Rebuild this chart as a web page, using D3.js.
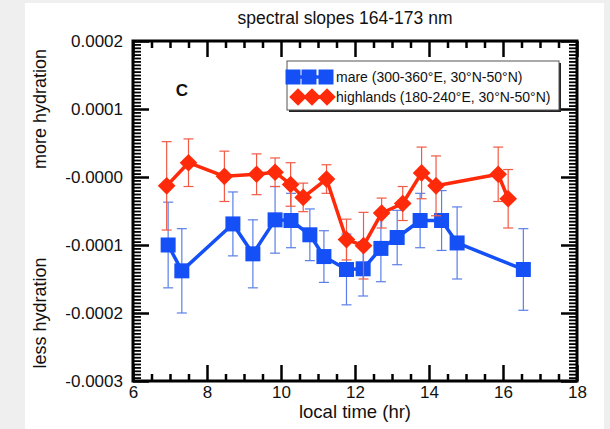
<!DOCTYPE html>
<html>
<head>
<meta charset="utf-8">
<script src="https://cdn.jsdelivr.net/npm/d3@7"></script>
<style>
  body { margin: 0; background: #efefef; }
  svg { display: block; }
  text { font-family: "Liberation Sans", Arial, Helvetica, sans-serif; }
</style>
</head>
<body>
<div id="chart"></div>
<script>
// local time (hr) and spectral slope values
var mareTime = [6.95, 7.32, 8.7, 9.24, 9.84, 10.27, 10.78, 11.16, 11.77, 12.22, 12.7, 13.14, 13.76, 14.34, 14.76, 16.55];
var mareSlope = [-0.0001, -0.000138, -0.000069, -0.000113, -0.000063, -0.000064, -0.000085, -0.000117, -0.000136, -0.000135, -0.000105, -0.000089, -0.000064, -0.000064, -0.000097, -0.000136];
var mareErr = [0.000063, 0.000062, 0.000047, 0.00005, 0.000049, 0.00004, 0.000038, 0.000038, 0.000052, 0.00004, 0.000049, 0.00004, 0.00004, 0.000044, 0.000053, 0.00006];

var highTime = [6.91, 7.5, 8.47, 9.34, 9.84, 10.26, 10.6, 11.23, 11.77, 12.23, 12.72, 13.29, 13.8, 14.19, 15.87, 16.14];
var highSlope = [-0.000013, 0.000021, 0.000001, 0.000004, 0.000007, -0.000011, -0.00003, -0.000003, -0.000092, -0.000101, -0.000053, -0.000039, 0.000006, -0.000013, 0.000004, -0.000032];
var highErr = [0.000065, 0.000035, 0.000037, 0.00003, 0.000021, 0.000032, 0.000021, 0.000021, 0.00003, 0.000049, 0.000022, 0.000025, 0.000038, 0.000044, 0.00004, 0.000043];

var xTicks = [6, 8, 10, 12, 14, 16, 18];
var yTicks = [-0.0003, -0.0002, -0.0001, 0, 0.0001, 0.0002];
var yTickLabels = ["-0.0003", "-0.0002", "-0.0001", "-0.0000", "0.0001", "0.0002"];

var seriesNames = ["mare (300-360°E, 30°N-50°N)", "highlands (180-240°E, 30°N-50°N)"];

var width = 610, height = 429;
var margin = { top: 41, right: 33, bottom: 48, left: 133 };

var svg = d3.select("#chart").append("svg")
    .attr("width", width)
    .attr("height", height);

// white panel over grey page
svg.append("rect")
    .attr("x", 25).attr("y", 3)
    .attr("width", 579).attr("height", height - 3)
    .attr("fill", "#fff");

var x = d3.scaleLinear().domain([6, 18]).range([margin.left, width - margin.right]);
var y = d3.scaleLinear().domain([-0.0003, 0.0002]).range([height - margin.bottom, margin.top]);

var x0 = x.range()[0], x1 = x.range()[1], y0 = y.range()[0], y1 = y.range()[1];

var xMinor = d3.range(6, 18.01, 0.5).filter(function(d) { return d % 2 !== 0; });
var yMinor = d3.range(-60, 41).map(function(d) { return d * 0.000005; })
    .filter(function(d, i) { return (i % 20) !== 0; });

function tickStyle(g, w) {
  g.select(".domain").remove();
  g.selectAll(".tick line").attr("stroke", "#000").attr("stroke-width", w);
  g.selectAll(".tick text").attr("fill", "#111").attr("font-size", "17px");
}

// bottom axis
svg.append("g")
    .attr("transform", "translate(0," + y0 + ")")
    .call(d3.axisBottom(x).tickValues(xMinor).tickSize(-7).tickFormat(""))
    .call(tickStyle, 2.5);
svg.append("g")
    .attr("transform", "translate(0," + y0 + ")")
    .call(d3.axisBottom(x).tickValues(xTicks).tickSize(-16).tickPadding(5).tickFormat(d3.format("d")))
    .call(tickStyle, 2.5);

// top axis
svg.append("g")
    .attr("transform", "translate(0," + y1 + ")")
    .call(d3.axisTop(x).tickValues(xMinor).tickSize(-7).tickFormat(""))
    .call(tickStyle, 2.5);
svg.append("g")
    .attr("transform", "translate(0," + y1 + ")")
    .call(d3.axisTop(x).tickValues(xTicks).tickSize(-16).tickFormat(""))
    .call(tickStyle, 2.5);

// left axis
svg.append("g")
    .attr("transform", "translate(" + x0 + ",0)")
    .call(d3.axisLeft(y).tickValues(yMinor).tickSize(-8).tickFormat(""))
    .call(tickStyle, 1.8);
svg.append("g")
    .attr("transform", "translate(" + x0 + ",0)")
    .call(d3.axisLeft(y).tickValues(yTicks).tickSize(-16).tickPadding(10)
        .tickFormat(function(d, i) { return yTickLabels[i]; }))
    .call(tickStyle, 2.5);

// right axis
svg.append("g")
    .attr("transform", "translate(" + x1 + ",0)")
    .call(d3.axisRight(y).tickValues(yMinor).tickSize(-8).tickFormat(""))
    .call(tickStyle, 1.8);
svg.append("g")
    .attr("transform", "translate(" + x1 + ",0)")
    .call(d3.axisRight(y).tickValues(yTicks).tickSize(-16).tickFormat(""))
    .call(tickStyle, 2.5);

// frame
svg.append("rect")
    .attr("x", x0).attr("y", y1)
    .attr("width", x1 - x0).attr("height", y0 - y1)
    .attr("fill", "none")
    .attr("stroke", "#000")
    .attr("stroke-width", 3);

// titles
svg.append("text")
    .attr("x", 345).attr("y", 24)
    .attr("text-anchor", "middle")
    .attr("font-size", "17.5px")
    .attr("fill", "#111")
    .text("spectral slopes 164-173 nm");

svg.append("text")
    .attr("x", 355).attr("y", 418)
    .attr("text-anchor", "middle")
    .attr("font-size", "18.5px")
    .attr("fill", "#111")
    .text("local time (hr)");

svg.append("text")
    .attr("transform", "translate(46," + y(0.0001) + ") rotate(-90)")
    .attr("text-anchor", "middle")
    .attr("font-size", "18px")
    .attr("fill", "#111")
    .text("more hydration");

svg.append("text")
    .attr("transform", "translate(46," + y(-0.0002) + ") rotate(-90)")
    .attr("text-anchor", "middle")
    .attr("font-size", "18px")
    .attr("fill", "#111")
    .text("less hydration");

svg.append("text")
    .attr("x", 182).attr("y", 96)
    .attr("text-anchor", "middle")
    .attr("font-size", "17px")
    .attr("font-weight", "bold")
    .attr("fill", "#111")
    .text("C");

function drawSeries(times, values, errs, color, errColor, symbol, rot) {
  var data = times.map(function(t, i) { return { t: t, v: values[i], e: errs[i] }; });
  var g = svg.append("g");

  var eb = g.selectAll(".err").data(data).enter().append("g")
      .attr("stroke", errColor)
      .attr("stroke-width", 1.2);
  eb.append("line")
      .attr("x1", function(d) { return x(d.t); })
      .attr("x2", function(d) { return x(d.t); })
      .attr("y1", function(d) { return y(d.v + d.e); })
      .attr("y2", function(d) { return y(d.v - d.e); });
  eb.append("line")
      .attr("x1", function(d) { return x(d.t) - 5; })
      .attr("x2", function(d) { return x(d.t) + 5; })
      .attr("y1", function(d) { return y(d.v + d.e); })
      .attr("y2", function(d) { return y(d.v + d.e); });
  eb.append("line")
      .attr("x1", function(d) { return x(d.t) - 5; })
      .attr("x2", function(d) { return x(d.t) + 5; })
      .attr("y1", function(d) { return y(d.v - d.e); })
      .attr("y2", function(d) { return y(d.v - d.e); });

  var line = d3.line()
      .x(function(d) { return x(d.t); })
      .y(function(d) { return y(d.v); });

  g.append("path")
      .datum(data)
      .attr("d", line)
      .attr("fill", "none")
      .attr("stroke", color)
      .attr("stroke-width", 3.5)
      .attr("stroke-linejoin", "round");

  g.selectAll(".pt").data(data).enter().append("path")
      .attr("d", symbol)
      .attr("transform", function(d) { return "translate(" + x(d.t) + "," + y(d.v) + ") rotate(" + rot + ")"; })
      .attr("fill", color);
}

var squareSym = d3.symbol(d3.symbolSquare, 15 * 15)();
var diamondSym = d3.symbol(d3.symbolSquare, 12.5 * 12.5)();

drawSeries(mareTime, mareSlope, mareErr, "#1450f5", "#5a7fe8", squareSym, 0);
drawSeries(highTime, highSlope, highErr, "#ff2a0a", "#f25a45", diamondSym, 45);

// legend
var lg = svg.append("g").attr("transform", "translate(287,61)");
lg.append("rect")
    .attr("x", 2).attr("y", 2)
    .attr("width", 272).attr("height", 49)
    .attr("fill", "#222");
lg.append("rect")
    .attr("width", 272).attr("height", 49)
    .attr("fill", "#fff")
    .attr("stroke", "#555")
    .attr("stroke-width", 1);

var legendItems = [
  { name: seriesNames[0], color: "#1450f5", sym: squareSym, rot: 0, xs: [6, 22, 39] },
  { name: seriesNames[1], color: "#ff2a0a", sym: diamondSym, rot: 45, xs: [11, 25, 40] }
];

var li = lg.selectAll(".item").data(legendItems).enter().append("g")
    .attr("transform", function(d, i) { return "translate(0," + (16 + i * 20) + ")"; });
li.append("line")
    .attr("x1", function(d) { return d.xs[0]; })
    .attr("x2", function(d) { return d.xs[2]; })
    .attr("stroke", function(d) { return d.color; })
    .attr("stroke-width", 3.5);
li.each(function(d) {
  d3.select(this).selectAll(".m").data(d.xs).enter().append("path")
      .attr("d", d.sym)
      .attr("transform", function(px) { return "translate(" + px + ",0) rotate(" + d.rot + ")"; })
      .attr("fill", d.color);
});
li.append("text")
    .attr("x", 49).attr("y", 5)
    .attr("font-size", "14px")
    .attr("fill", "#111")
    .text(function(d) { return d.name; });
</script>
</body>
</html>
